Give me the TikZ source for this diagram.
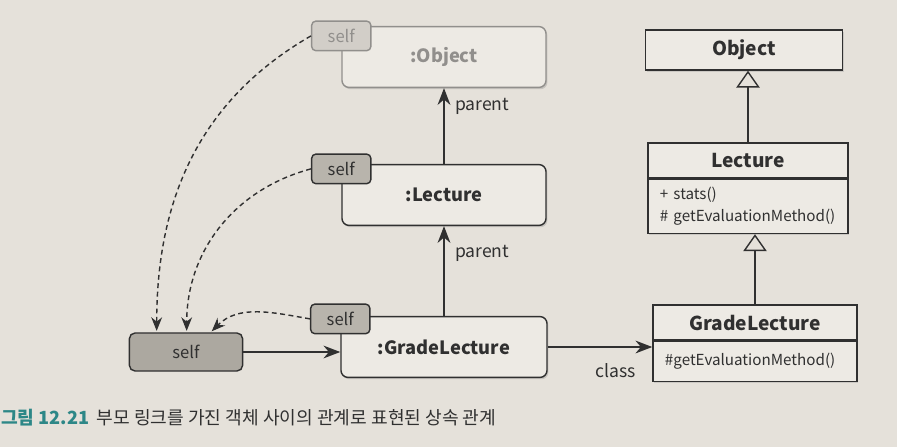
\documentclass[tikz,border=0pt]{standalone}
\usepackage{fontspec}
\setmainfont{Noto Sans CJK KR}
\usepackage{xcolor}
\usepackage{tikz}
\usetikzlibrary{positioning,shapes,shadows,arrows.meta,calc}
\definecolor{pagebg}{RGB}{229,225,218}
\definecolor{ink}{RGB}{48,48,48}
\definecolor{boxbg}{RGB}{237,234,228}
\definecolor{tagbg}{RGB}{184,180,172}
\definecolor{mebg}{RGB}{172,168,160}
\definecolor{fadeink}{RGB}{145,143,140}
\definecolor{fadebg}{RGB}{210,206,200}
\definecolor{capteal}{RGB}{45,135,135}

\begin{document}
\begin{tikzpicture}[x=0.025cm,y=-0.025cm,
          every node/.style={text=ink},
          objnode/.style={draw=ink,fill=boxbg,rounded corners=5pt,line width=1pt,
            minimum width=5.1cm,minimum height=1.52cm,
            font=\fontsize{13}{15}\selectfont\bfseries,
            drop shadow={shadow xshift=1pt,shadow yshift=-1.3pt,opacity=0.3}},
          selftag/.style={draw=ink,fill=tagbg,rounded corners=3pt,line width=1pt,
            minimum width=1.48cm,minimum height=0.74cm,inner sep=0pt,
            font=\fontsize{11.8}{14}\selectfont},
          fadetag/.style={selftag,draw=fadeink,fill=fadebg,text=fadeink},
          faded/.style={draw=fadeink,text=fadeink},
          clshead/.style={draw=ink,fill=boxbg,line width=1pt,minimum height=0.88cm,
            font=\fontsize{13.6}{16}\selectfont\bfseries,
            drop shadow={shadow xshift=1pt,shadow yshift=-1.3pt,opacity=0.25}},
          clsbody/.style={draw=ink,fill=boxbg,line width=1pt,align=left,
            inner xsep=0.3cm,font=\fontsize{10.8}{15.5}\selectfont,
            drop shadow={shadow xshift=1pt,shadow yshift=-1.3pt,opacity=0.25}},
          lbl/.style={font=\fontsize{12.5}{14}\selectfont},
          link/.style={line width=1pt,draw=ink,-{Stealth[length=4.2mm,width=3.2mm]}},
          selflink/.style={line width=1pt,draw=ink,dash pattern=on 3.5pt off 2.5pt,
            shorten >=1pt,-{Stealth[length=3.4mm,width=2.7mm]}},
          isa/.style={line width=1pt,draw=ink,-{Triangle[open,length=4.2mm,width=5.8mm]}}
          ]
          % the page
          \path[use as bounding box,fill=pagebg] (0,0) rectangle (897,447);

          % the objects
          \node[objnode,faded] (oObj) at (444,57) {:Object};
          \node[objnode] (oLec) at (444,195) {:Lecture};
          \node[objnode,minimum width=5.15cm] (oGrade) at (444,347) {:GradeLecture};

          % the self tags
          \foreach \n/\dy/\st in {Obj/10/fadetag,Lec/5/selftag,Grade/3/selftag}
            \node[\st] (t\n) at ($(o\n.north west)+(0,\dy)$) {self};

          % the self variable
          \node[selftag,fill=mebg,rounded corners=4pt,minimum width=2.83cm,
            minimum height=0.95cm] (me) at (186,352) {self};

          % the classes
          \node[clshead,minimum width=4.93cm,minimum height=1cm] (objC) at (744,50) {Object};
          \node[clshead,minimum width=5cm] (lecH) at (748,160.5) {Lecture};
          \node[clsbody,below=0pt of lecH,text width=4.4cm,minimum height=1.35cm] (lecB)
            {+ stats()\\\# getEvaluationMethod()};
          \node[clshead,minimum width=5.1cm] (gradeH) at (755,322.5) {GradeLecture};
          \node[clsbody,below=0pt of gradeH,text width=4.5cm,minimum height=1cm] (gradeB)
            {\#getEvaluationMethod()};

          % the edges
          \draw[link] (oLec.north) -- node[lbl,right=4pt,pos=0.76] {parent} (oObj.south);
          \draw[link] (oGrade.north) -- node[lbl,right=4pt,pos=0.7] {parent} (oLec.south);
          \draw[link] (me.east) -- (me.east -| oGrade.west);
          \draw[link] (oGrade.east) -- node[lbl,below=8pt,pos=0.65] {class} (oGrade.east -| gradeH.west);
          \draw[selflink] (tObj.west) to[out=210,in=90] ([xshift=0.7cm]me.north west);
          \draw[selflink] (tLec.west) to[out=195,in=90] ([xshift=1.45cm]me.north west);
          \draw[selflink] (tGrade.west) to[out=170,in=45] ([xshift=2.05cm]me.north west);
          \draw[isa] (lecH.north) -- (lecH.north |- objC.south);
          \draw[isa] (gradeH.north) -- (gradeH.north |- lecB.south);

          % the caption
          \node[anchor=west,inner sep=0pt,font=\fontsize{12.9}{15}\selectfont] (cap) at (1,418)
            {\textcolor{capteal}{\bfseries 그림 12.21}\hspace{0.4em}부모 링크를 가진 객체 사이의 관계로 표현된 상속 관계};
        \end{tikzpicture}
\end{document}
